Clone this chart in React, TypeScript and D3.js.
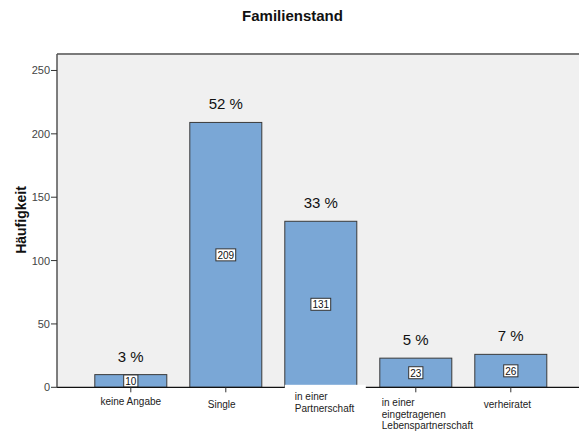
import React from "react";
import * as d3 from "d3";

const categories = ["keine Angabe", "Single", "in einer Partnerschaft", "in einer eingetragenen Lebenspartnerschaft", "verheiratet"];
const labelLines = [["keine Angabe"], ["Single"], ["in einer", "Partnerschaft"], ["in einer", "eingetragenen", "Lebenspartnerschaft"], ["verheiratet"]];
const counts = [10, 209, 131, 23, 26];
const percents = ["3 %", "52 %", "33 %", "5 %", "7 %"];
const yTicks = [0, 50, 100, 150, 200, 250];

export default function App() {
  const W = 579, H = 435;
  const left = 57, top = 54, bottom = 387.3;
  const y = d3.scaleLinear().domain([0, 263]).range([bottom, top]);
  const pi = 23 / 95;
  const x = d3.scaleBand<string>().domain(categories).range([83.3, 558.3]).paddingInner(pi).paddingOuter(pi / 2);
  const bw = x.bandwidth();
  const font = "Arial, 'Liberation Sans', sans-serif";
  // label positions per category (anchor, x offset from band center, baseline start)
  const labelCfg = [
    { anchor: "middle", dx: 0, y0: 405 },
    { anchor: "start", dx: -18, y0: 408 },
    { anchor: "start", dx: -26, y0: 400 },
    { anchor: "start", dx: -34, y0: 406 },
    { anchor: "start", dx: -27, y0: 408 },
  ];
  return (
    <svg width={W} height={H} style={{ position: "absolute", left: 0, top: 0, background: "#fff" }} fontFamily={font}>
      <rect x={left} y={top} width={W - left + 20} height={bottom - top} fill="#f0f0f0" />
      <line x1={left} x2={W} y1={top} y2={top} stroke="#7a7a7a" strokeWidth={2} />
      {categories.map((c, i) => {
        const cx = x(c)! + bw / 2;
        const yt = y(counts[i]);
        const ym = y(counts[i] / 2);
        const txt = String(counts[i]);
        const bwBox = txt.length * 5.6 + 3;
        return (
          <g key={c}>
            <rect x={x(c)!} y={yt} width={bw} height={bottom - yt} fill="#7aa7d6" stroke="#3a3a3a" strokeWidth={1} />
            <text x={cx} y={yt - 13} textAnchor="middle" fontSize={15} fill="#111">{percents[i]}</text>
            <rect x={cx - bwBox / 2} y={ym - 6} width={bwBox} height={12} fill="#fff" stroke="#333" strokeWidth={1} />
            <text x={cx} y={ym + 4} textAnchor="middle" fontSize={10} fill="#111">{txt}</text>
          </g>
        );
      })}
      <line x1={left} x2={W} y1={bottom} y2={bottom} stroke="#111" strokeWidth={1.3} />
      {categories.map((c) => {
        const cx = x(c)! + bw / 2;
        return <line key={c} x1={cx} x2={cx} y1={bottom} y2={bottom + 5} stroke="#333" strokeWidth={1} />;
      })}
      {/* white label background behind "in einer Partnerschaft" */}
      <rect x={x(categories[2])!} y={bottom - 2.5} width={81} height={28} fill="#fff" />
      {labelLines.map((lines, i) => {
        const cx = x(categories[i])! + bw / 2;
        const cfg = labelCfg[i];
        return (
          <text key={i} x={cx + cfg.dx} y={cfg.y0} textAnchor={cfg.anchor as any} fontSize={10} fill="#222">
            {lines.map((l, j) => (
              <tspan key={j} x={cx + cfg.dx} y={cfg.y0 + j * 11.7}>{l}</tspan>
            ))}
          </text>
        );
      })}
      <line x1={left} x2={left} y1={top} y2={bottom} stroke="#555" strokeWidth={1.5} />
      {yTicks.map((t) => (
        <g key={t}>
          <line x1={left - 6} x2={left} y1={y(t)} y2={y(t)} stroke="#333" strokeWidth={1} />
          <text x={left - 7} y={y(t) + 4} textAnchor="end" fontSize={11} fill="#444">{t}</text>
        </g>
      ))}
      <text x={0} y={0} transform={`translate(26,220) rotate(-90)`} textAnchor="middle" fontSize={14} fontWeight="bold" fill="#111">Häufigkeit</text>
      <text x={292.5} y={21} textAnchor="middle" fontSize={15} fontWeight="bold" fill="#111">Familienstand</text>
    </svg>
  );
}
